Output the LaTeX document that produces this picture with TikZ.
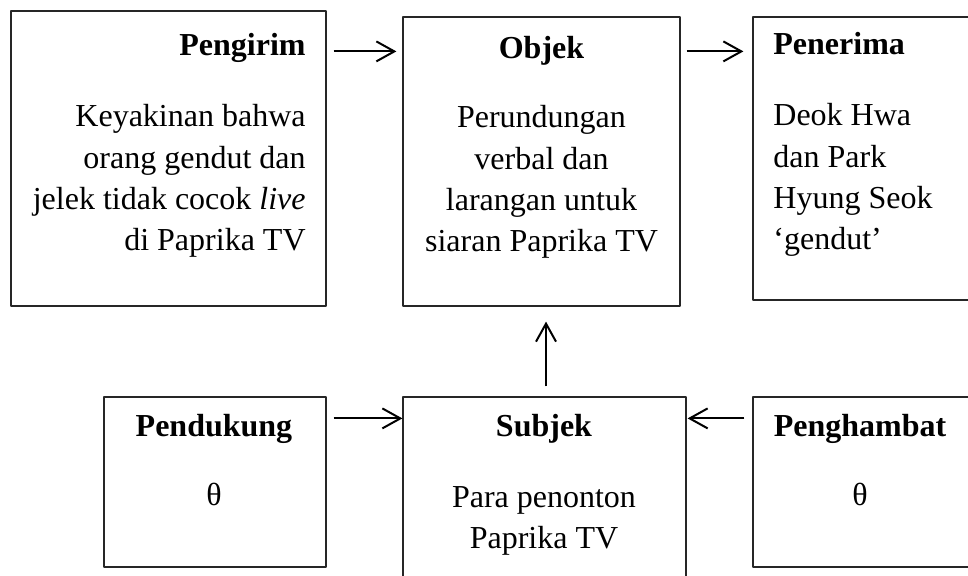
\documentclass[tikz,border=0pt]{standalone}
\usepackage{fontspec}
\setmainfont{Liberation Serif}
\usetikzlibrary{arrows.meta}

\begin{document}
\begin{tikzpicture}[x=0.5pt, y=-0.5pt, line join=round,
  font=\fontsize{16pt}{20.7pt}\selectfont,
  kotak/.style={draw=black!85, line width=0.6pt, inner sep=0pt},
  judul/.style={inner sep=0pt, font=\fontsize{16pt}{20.7pt}\selectfont\bfseries},
  isi/.style={inner sep=0pt},
  panah/.style={-{Straight Barb[length=9pt, width=10pt, line width=1pt]}, line width=1pt}]
\useasboundingbox (0,0) rectangle (968,576);
\clip (0,0) rectangle (968,576);
\node[kotak, minimum width=157.5pt, minimum height=147.5pt] (pengirim) at (168.5,158.5) {};
\node[kotak, minimum width=138.5pt, minimum height=144.5pt] (objek) at (541.5,161.5) {};
\node[kotak, minimum width=109.5pt, minimum height=141.5pt] (penerima) at (862.5,158.5) {};
\node[kotak, minimum width=111pt, minimum height=85pt] (pendukung) at (215,482) {};
\node[kotak, minimum width=141.5pt, minimum height=92.5pt] (subjek) at (544.5,489.5) {};
\node[kotak, minimum width=108.5pt, minimum height=85pt] (penghambat) at (861.5,482) {};
\node[judul, anchor=base east] (pengirimjudul) at (306,56) {Pengirim};
\node[judul, anchor=base] (objekjudul) at (541.5,59) {Objek};
\node[judul, anchor=base west] (penerimajudul) at (773,55) {Penerima};
\node[judul, anchor=base] (pendukungjudul) at (214,437) {Pendukung};
\node[judul, anchor=base] (subjekjudul) at (544,437) {Subjek};
\node[judul, anchor=base] (penghambatjudul) at (860,437) {Penghambat};
\node[isi, align=right, anchor=north east] (pengirimisi) at (306,104) {Keyakinan bahwa\\orang gendut dan\\jelek tidak cocok \textit{live}\\di Paprika TV};
\node[isi, align=center, anchor=north] (objekisi) at (541.5,105) {Perundungan\\verbal dan\\larangan untuk\\siaran Paprika TV};
\node[isi, align=left, anchor=north west] (penerimaisi) at (773,103) {Deok Hwa\\dan Park\\Hyung Seok\\‘gendut’};
\node[isi, anchor=base] (pendukungisi) at (214,505) {θ};
\node[isi, align=center, anchor=north] (subjekisi) at (544,486) {Para penonton\\Paprika TV};
\node[isi, anchor=base] (penghambatisi) at (860,505) {θ};
\draw[panah, shorten <=3.5pt, shorten >=3pt] ([yshift=-20.5pt]pengirim.north east) -- ([yshift=-17.5pt]objek.north west);
\draw[panah, shorten <=3pt, shorten >=4.5pt] ([yshift=-17.5pt]objek.north east) -- ([yshift=-17.5pt]penerima.north west);
\draw[panah, shorten <=3.5pt] ([yshift=-11pt]pendukung.north east) -- ([yshift=-11pt]subjek.north west);
\draw[panah, shorten <=4pt, shorten >=0.5pt] ([yshift=-11pt]penghambat.north west) -- ([yshift=-11pt]subjek.north east);
\draw[panah, shorten <=5pt, shorten >=7.5pt] ([xshift=0.75pt]subjek.north) -- ([xshift=0.75pt]subjek.north |- objek.south);
\end{tikzpicture}
\end{document}
